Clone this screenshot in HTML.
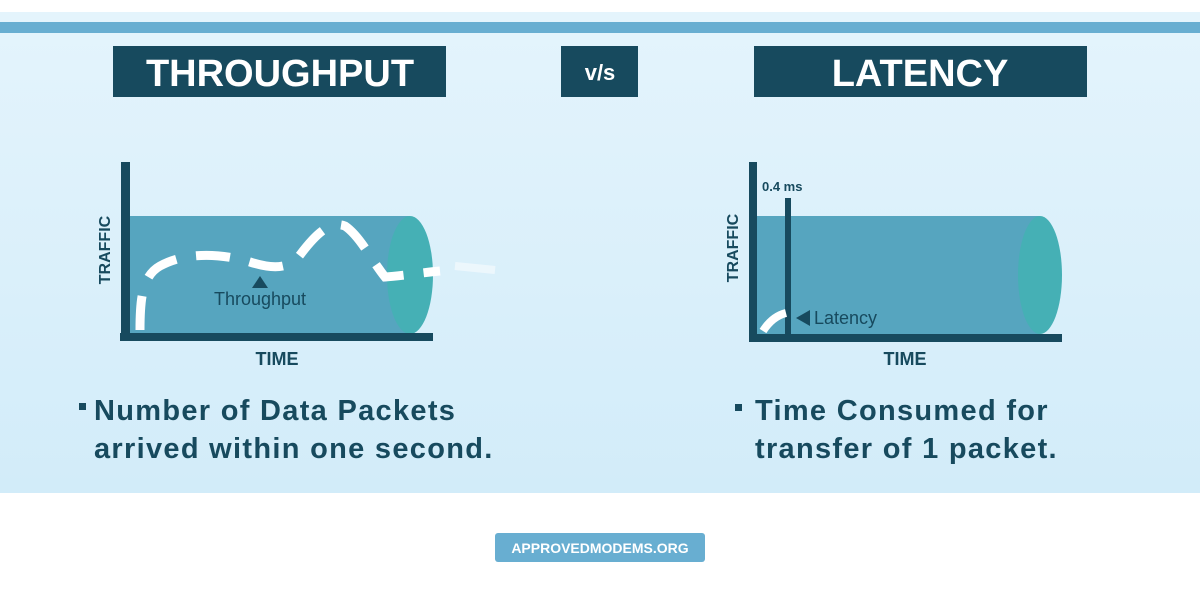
<!DOCTYPE html>
<html><head><style>
body{margin:0;width:1200px;height:600px;overflow:hidden;background:#fff;font-family:"Liberation Sans",sans-serif}
</style></head><body>
<svg width="1200" height="600" viewBox="0 0 1200 600" xmlns="http://www.w3.org/2000/svg">
<defs>
<linearGradient id="bg" x1="0" y1="0" x2="0" y2="1">
<stop offset="0" stop-color="#e4f4fc"/><stop offset="1" stop-color="#d2ecf9"/>
</linearGradient>
</defs>
<rect x="0" y="12" width="1200" height="481" fill="url(#bg)"/>
<rect x="0" y="22" width="1200" height="11" fill="#68aed1"/>
<g fill="#174a5e">
<rect x="113" y="46" width="333" height="51"/>
<rect x="561" y="46" width="77" height="51"/>
<rect x="754" y="46" width="333" height="51"/>
</g>
<g fill="#fff" font-weight="bold" text-anchor="middle">
<text x="280" y="86" font-size="38">THROUGHPUT</text>
<text x="600" y="80" font-size="22">v/s</text>
<text x="920" y="86" font-size="38">LATENCY</text>
</g>
<!-- left chart -->
<rect x="128" y="216" width="282" height="118" fill="#56a5bf"/>
<ellipse cx="410" cy="275" rx="23" ry="59" fill="#45b0b5"/>
<rect x="121" y="162" width="9" height="178" fill="#174a5e"/>
<rect x="120" y="333" width="313" height="8" fill="#174a5e"/>
<path d="M140 330 C140 300 142 276 160 266 C185 252 220 253 250 262 C275 270 290 268 300 255 C315 235 330 220 345 226 C360 236 370 258 385 277 C400 276 420 273 440 271" fill="none" stroke="#fff" stroke-width="9" stroke-dasharray="34 20"/>
<path d="M455 266 L495 270" stroke="#fff" stroke-width="8" opacity="0.5"/>
<path d="M252 288 L260 276 L268 288Z" fill="#174a5e"/>
<text x="260" y="305" font-size="18" fill="#174a5e" text-anchor="middle">Throughput</text>
<text transform="translate(110 250) rotate(-90)" font-size="16" font-weight="bold" fill="#174a5e" text-anchor="middle">TRAFFIC</text>
<text x="277" y="365" font-size="18" font-weight="bold" fill="#174a5e" text-anchor="middle">TIME</text>
<!-- right chart -->
<rect x="755" y="216" width="285" height="118" fill="#56a5bf"/>
<ellipse cx="1040" cy="275" rx="22" ry="59" fill="#45b0b5"/>
<rect x="749" y="162" width="8" height="180" fill="#174a5e"/>
<rect x="749" y="334" width="313" height="8" fill="#174a5e"/>
<rect x="785" y="198" width="6" height="136" fill="#174a5e"/>
<path d="M763 331 C770 320 778 315 786 313" fill="none" stroke="#fff" stroke-width="8"/>
<path d="M796 318 L810 310 L810 326Z" fill="#174a5e"/>
<text x="814" y="324" font-size="18" fill="#174a5e">Latency</text>
<text x="762" y="191" font-size="13" font-weight="bold" fill="#174a5e">0.4 ms</text>
<text transform="translate(738 248) rotate(-90)" font-size="16" font-weight="bold" fill="#174a5e" text-anchor="middle">TRAFFIC</text>
<text x="905" y="365" font-size="18" font-weight="bold" fill="#174a5e" text-anchor="middle">TIME</text>
<!-- bullets -->
<g fill="#174a5e" font-size="29" font-weight="bold" letter-spacing="1.3">
<rect x="79" y="403" width="7" height="7"/>
<text x="94" y="420">Number of Data Packets</text>
<text x="94" y="458">arrived within one second.</text>
<rect x="735" y="404" width="7" height="7"/>
<text x="755" y="420">Time Consumed for</text>
<text x="755" y="458">transfer of 1 packet.</text>
</g>
<rect x="495" y="533" width="210" height="29" rx="3" fill="#68aed1"/>
<text x="600" y="553" font-size="14" font-weight="bold" fill="#fff" text-anchor="middle">APPROVEDMODEMS.ORG</text>
</svg>
</body></html>
